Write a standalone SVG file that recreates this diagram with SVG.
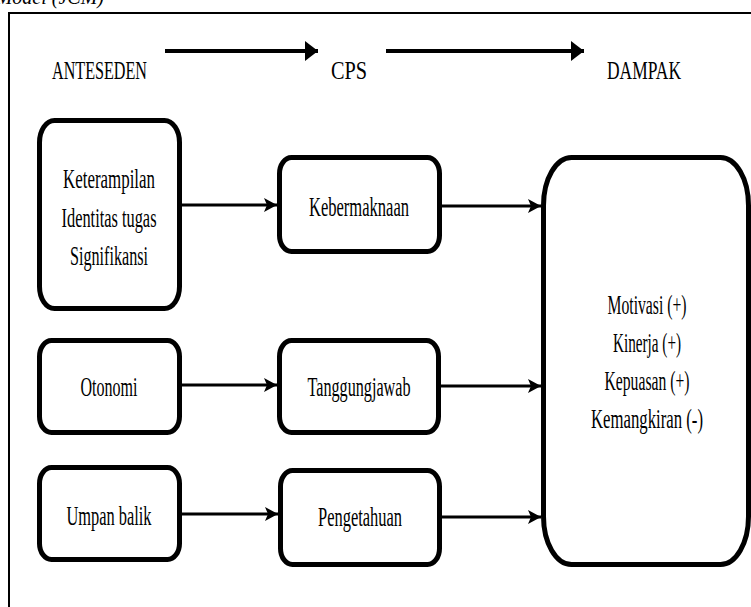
<svg xmlns="http://www.w3.org/2000/svg" width="751" height="607" viewBox="0 0 751 607">
  <style>
    .box { fill: #ffffff; stroke: #000000; stroke-width: 5; }
    .t { font-family: "Liberation Serif", "Times New Roman", serif; font-size: 27px; fill: #000000; text-anchor: middle; }
    .h { font-family: "Liberation Serif", "Times New Roman", serif; font-size: 25px; fill: #000000; }
    .cap { font-family: "Liberation Serif", "Times New Roman", serif; font-size: 20px; font-style: italic; fill: #000000; text-anchor: end; }
    .conn { stroke: #000000; stroke-width: 3; fill: none; }
    .big { stroke: #000000; stroke-width: 4; fill: none; }
  </style>
  <defs>
    <marker id="ah" markerUnits="userSpaceOnUse" markerWidth="14" markerHeight="16" viewBox="0 0 14 16" refX="13" refY="8" orient="auto">
      <path d="M0,1 L13,8 L0,15 L3,8 Z" fill="#000000"/>
    </marker>
    <marker id="ahb" markerUnits="userSpaceOnUse" markerWidth="14" markerHeight="20" viewBox="0 0 14 20" refX="13" refY="10" orient="auto">
      <path d="M0,0 L13,10 L0,20 Z" fill="#000000"/>
    </marker>
  </defs>

  <rect x="0" y="0" width="751" height="607" fill="#ffffff"/>
  <text class="cap" x="104" y="4">Model (JCM)</text>
  <rect x="9" y="13" width="800" height="700" fill="none" stroke="#000000" stroke-width="2"/>

  <g id="header">
    <text class="h" x="52" y="79" textLength="95" lengthAdjust="spacingAndGlyphs">ANTESEDEN</text>
    <text class="h" x="331" y="79" textLength="36" lengthAdjust="spacingAndGlyphs">CPS</text>
    <text class="h" x="607" y="79" textLength="74" lengthAdjust="spacingAndGlyphs">DAMPAK</text>
  </g>

  <g id="connectors">
    <line class="big" x1="165" y1="51" x2="318" y2="51" marker-end="url(#ahb)"/>
    <line class="big" x1="386" y1="51" x2="584" y2="51" marker-end="url(#ahb)"/>
    <line class="conn" x1="182" y1="205" x2="277" y2="205" marker-end="url(#ah)"/>
    <line class="conn" x1="442" y1="206" x2="541" y2="206" marker-end="url(#ah)"/>
    <line class="conn" x1="182" y1="385" x2="277" y2="385" marker-end="url(#ah)"/>
    <line class="conn" x1="441" y1="386" x2="541" y2="386" marker-end="url(#ah)"/>
    <line class="conn" x1="182" y1="514" x2="278" y2="514" marker-end="url(#ah)"/>
    <line class="conn" x1="442" y1="517" x2="541" y2="517" marker-end="url(#ah)"/>
  </g>

  <g id="anteseden1">
    <rect class="box" x="39.5" y="120.5" width="140" height="188" rx="15" ry="22"/>
    <text class="t" x="109" y="188" textLength="92" lengthAdjust="spacingAndGlyphs">Keterampilan</text>
    <text class="t" x="109" y="227" textLength="95" lengthAdjust="spacingAndGlyphs">Identitas tugas</text>
    <text class="t" x="109" y="265" textLength="78" lengthAdjust="spacingAndGlyphs">Signifikansi</text>
  </g>
  <g id="anteseden2">
    <rect class="box" x="39.5" y="340.5" width="140" height="92" rx="12" ry="16"/>
    <text class="t" x="109" y="396" textLength="57" lengthAdjust="spacingAndGlyphs">Otonomi</text>
  </g>
  <g id="anteseden3">
    <rect class="box" x="39.5" y="467.5" width="140" height="92" rx="12" ry="16"/>
    <text class="t" x="109" y="525" textLength="85" lengthAdjust="spacingAndGlyphs">Umpan balik</text>
  </g>

  <g id="cps1">
    <rect class="box" x="279.5" y="157.5" width="160" height="94" rx="12" ry="16"/>
    <text class="t" x="359" y="216" textLength="100" lengthAdjust="spacingAndGlyphs">Kebermaknaan</text>
  </g>
  <g id="cps2">
    <rect class="box" x="279.5" y="340.5" width="159" height="92" rx="12" ry="16"/>
    <text class="t" x="359" y="396" textLength="103" lengthAdjust="spacingAndGlyphs">Tanggungjawab</text>
  </g>
  <g id="cps3">
    <rect class="box" x="280.5" y="470.5" width="159" height="94" rx="12" ry="16"/>
    <text class="t" x="360" y="526" textLength="84" lengthAdjust="spacingAndGlyphs">Pengetahuan</text>
  </g>

  <g id="dampak">
    <rect class="box" x="543.5" y="157.5" width="205" height="407" rx="28" ry="48"/>
    <text class="t" x="647" y="314" textLength="79" lengthAdjust="spacingAndGlyphs">Motivasi (+)</text>
    <text class="t" x="647" y="352" textLength="68" lengthAdjust="spacingAndGlyphs">Kinerja (+)</text>
    <text class="t" x="647" y="390" textLength="85" lengthAdjust="spacingAndGlyphs">Kepuasan (+)</text>
    <text class="t" x="647" y="428" textLength="112" lengthAdjust="spacingAndGlyphs">Kemangkiran (-)</text>
  </g>
</svg>
